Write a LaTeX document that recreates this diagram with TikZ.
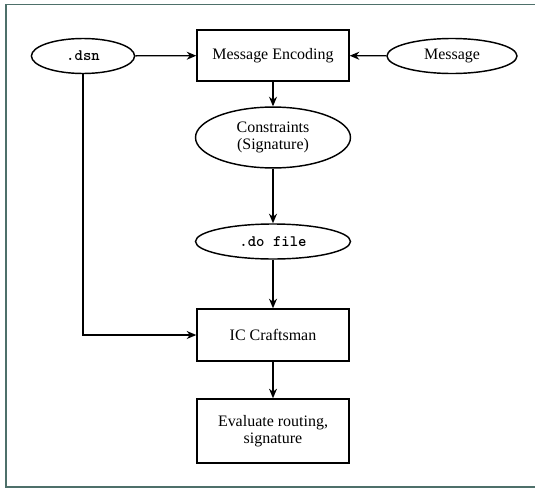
\documentclass[tikz,border=0pt]{standalone}
\usepackage{fontspec}
\setmainfont{Liberation Serif}
\usetikzlibrary{shapes,arrows.meta}
\definecolor{framecol}{RGB}{78,112,106}
\tikzset{
	proc/.style={rectangle,draw,line width=0.9pt,minimum width=3.344cm,minimum height=1.12cm,inner sep=0pt,align=center,font=\fontsize{10}{10.6}\selectfont},
	datum/.style={ellipse,draw,line width=0.9pt,minimum height=0.77cm,inner sep=0pt,align=center,font=\fontsize{10}{10.6}\selectfont},
	filedatum/.style={datum,font=\fontsize{10}{11}\selectfont\ttfamily\bfseries},
	flow/.style={->,>={Stealth[width=5pt,length=6pt]},color=black,line width=0.8pt}
}
\begin{document}
\begin{tikzpicture}[x=0.022cm,y=-0.022cm]
	\useasboundingbox (0,0) rectangle (535,489);
	
	%%frame
	\draw[framecol,line width=1.1pt] (535,4.5) -- (6,4.5) -- (6,487) -- (535,487);
	
	%%inputs
	\node[filedatum,minimum width=2.27cm] (dsn) at (83,56) {.dsn};
	\node[proc] (msgenc) at (273,55.5) {Message Encoding};
	\node[datum,minimum width=2.86cm] (msg) at (452,56) {Message};
	
	%%signature path
	\node[datum,minimum width=3.41cm,minimum height=1.34cm] (cons) at (273,137.5) {Constraints\\(Signature)};
	\node[filedatum,minimum width=3.41cm] (dofile) at (273,241.5) {.do file};
	
	%%routing
	\node[proc,minimum height=1.144cm] (ic) at (273,335) {IC Craftsman};
	\node[proc,minimum height=1.41cm] (eval) at (273,431) {Evaluate routing,\\signature};
	
	%%% edges
	\draw[flow] (dsn) -- (msgenc);
	\draw[flow] (msg) -- (msgenc);
	\draw[flow] (msgenc) -- (cons);
	\draw[flow] (cons) -- (dofile);
	\draw[flow] (dofile) -- (ic);
	\draw[flow] (dsn) |- (ic);
	\draw[flow] (ic) -- (eval);
	
\end{tikzpicture}
\end{document}
